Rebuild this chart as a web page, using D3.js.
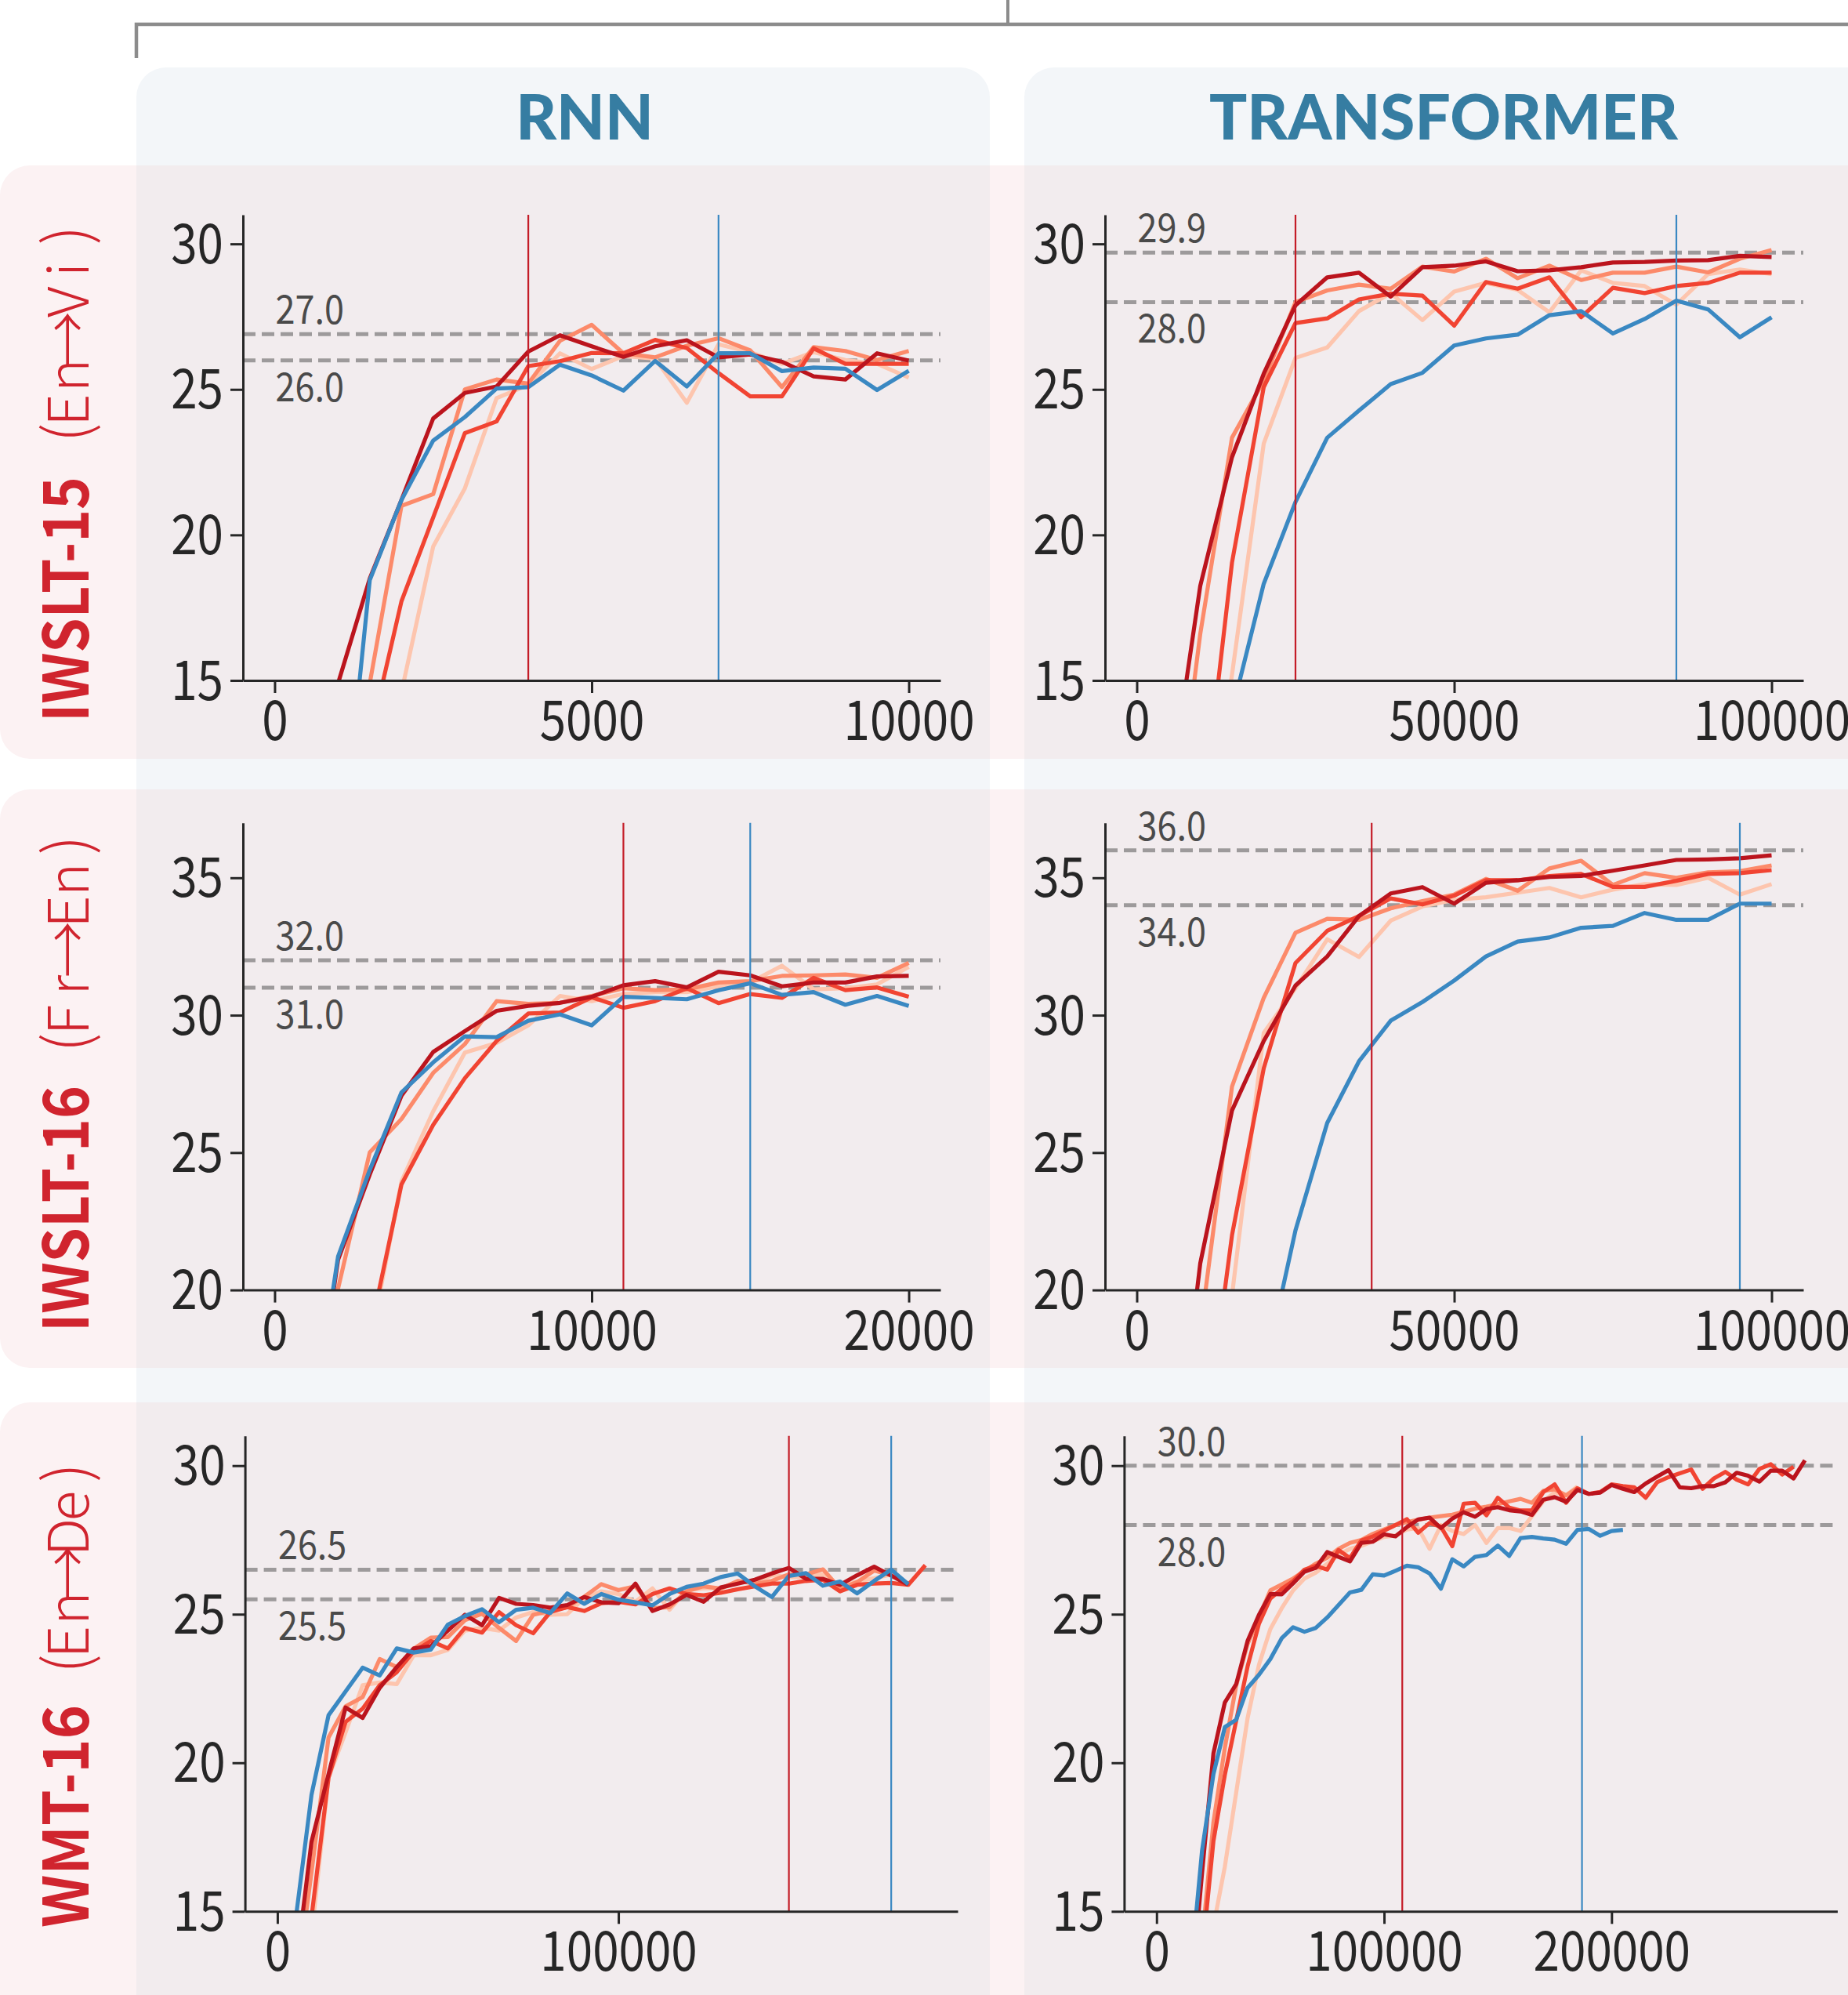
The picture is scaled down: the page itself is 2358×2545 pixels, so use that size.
<!DOCTYPE html>
<html><head><meta charset="utf-8">
<script src="https://cdn.jsdelivr.net/npm/d3@7"></script>
<style>body{margin:0;background:#fff}</style>
</head><body>
<svg id="c" width="2358" height="2545" xmlns="http://www.w3.org/2000/svg"></svg>
<script>
// ---------------- DATA ----------------
const columnTitles = ["RNN", "TRANSFORMER"];
const rowTitles = ["IWSLT-15", "IWSLT-16", "WMT-16"];
const rowSubtitles = ["(En→Vi)", "(Fr→En)", "(En→De)"];
const seriesKeys = ["peach", "salmon", "red", "darkRed", "blue"];

// Panel 1: RNN, IWSLT-15
const steps1 = [0,500,1000,1500,2000,2500,3000,3500,4000,4500,5000,5500,6000,6500,7000,7500,8000,8500,9000,9500,10000];
const p1Peach   = [null,null,null,11.0,14.6,19.6,21.6,24.7,25.15,26.24,25.7,26.15,26.06,24.54,26.55,26.28,25.88,26.28,26.01,25.88,25.41];
const p1Salmon  = [null,null,null,14.9,21.0,21.4,25.0,25.34,25.2,26.67,27.22,26.24,26.1,26.5,26.76,26.34,25.08,26.45,26.32,26.01,26.32];
const p1Red     = [null,null,null,13.0,17.72,20.6,23.5,23.9,25.8,25.97,26.25,26.24,26.7,26.42,25.56,24.76,24.76,26.41,25.88,25.88,25.88];
const p1DarkRed = [null,null,14.9,18.5,21.2,24.0,24.88,25.1,26.3,26.86,26.48,26.12,26.48,26.69,26.1,26.2,25.95,25.45,25.34,26.24,25.99];
const p1Blue    = [null,null,7.7,18.45,21.2,23.24,24.05,25.03,25.08,25.85,25.48,24.96,25.98,25.1,26.24,26.24,25.63,25.75,25.71,24.98,25.64];

// Panel 2: Transformer, IWSLT-15
const steps2 = [0,5000,10000,15000,20000,25000,30000,35000,40000,45000,50000,55000,60000,65000,70000,75000,80000,85000,90000,95000,100000];
const p2Peach   = [null,null,8.0,15.2,23.14,26.08,26.44,27.69,28.31,27.38,28.36,28.66,28.42,27.65,29.09,28.66,28.55,27.91,28.96,29.12,28.96];
const p2Salmon  = [null,8.0,16.6,23.34,25.3,28.0,28.4,28.6,28.46,29.22,29.05,29.49,28.82,29.25,28.76,29.01,29.01,29.22,29.02,29.49,29.79];
const p2Red     = [null,null,9.6,19.05,25.08,27.28,27.44,28.09,28.29,28.22,27.19,28.69,28.46,28.85,27.48,28.49,28.31,28.55,28.66,29.01,29.01];
const p2DarkRed = [null,10.8,18.25,22.67,25.54,27.89,28.85,29.01,28.19,29.2,29.25,29.4,29.06,29.09,29.2,29.36,29.38,29.43,29.44,29.59,29.55];
const p2Blue    = [null,null,null,13.93,18.32,21.13,23.34,24.27,25.18,25.57,26.51,26.75,26.88,27.55,27.69,26.92,27.42,28.05,27.75,26.79,27.48];

// Panel 3: RNN, IWSLT-16
const steps3 = [0,1000,2000,3000,4000,5000,6000,7000,8000,9000,10000,11000,12000,13000,14000,15000,16000,17000,18000,19000,20000];
const p3Peach   = [null,null,null,18.0,23.95,26.5,28.64,28.99,29.63,30.7,30.51,30.77,30.84,30.84,31.05,31.19,31.8,30.94,30.98,31.12,31.76];
const p3Salmon  = [null,12.0,20.05,25.01,26.22,27.9,28.95,30.51,30.41,30.45,30.7,30.98,30.91,30.94,31.19,31.24,31.43,31.45,31.48,31.36,31.9];
const p3Red     = [null,null,null,18.4,23.84,26.01,27.71,29.06,30.06,30.1,30.65,30.27,30.51,30.98,30.44,30.77,30.63,31.36,30.91,31.01,30.67];
const p3DarkRed = [null,13.2,21.1,24.2,27.07,28.66,29.42,30.16,30.34,30.45,30.67,31.09,31.24,31.01,31.58,31.45,31.05,31.19,31.19,31.41,31.43];
const p3Blue    = [null,13.6,21.22,24.37,27.19,28.28,29.23,29.2,29.8,30.03,29.63,30.67,30.63,30.58,30.91,31.16,30.74,30.84,30.38,30.7,30.34];

// Panel 4: Transformer, IWSLT-16
const steps4 = [0,5000,10000,15000,20000,25000,30000,35000,40000,45000,50000,55000,60000,65000,70000,75000,80000,85000,90000,95000,100000];
const p4Peach   = [null,null,null,19.8,29.35,30.98,32.76,32.12,33.44,33.96,34.2,34.29,34.46,34.63,34.29,34.57,34.77,34.74,35.0,34.39,34.77];
const p4Salmon  = [null,null,18.5,27.4,30.63,33.0,33.51,33.47,33.89,34.15,34.39,34.96,34.53,35.34,35.62,34.74,35.17,35.0,35.2,35.24,35.45];
const p4Red     = [null,null,13.2,21.99,28.07,31.9,33.07,33.61,34.25,34.03,34.35,34.91,34.91,35.06,35.14,34.67,34.67,34.89,35.14,35.17,35.28];
const p4DarkRed = [null,11.3,20.97,26.53,29.06,31.08,32.14,33.61,34.43,34.66,34.06,34.82,34.91,35.03,35.07,35.26,35.45,35.65,35.67,35.71,35.82];
const p4Blue    = [null,null,null,null,16.9,22.17,26.08,28.32,29.8,30.48,31.26,32.14,32.68,32.83,33.18,33.25,33.72,33.47,33.47,34.06,34.06];

// Panel 5: RNN, WMT-16
const steps5 = [0,5000,10000,15000,20000,25000,30000,35000,40000,45000,50000,55000,60000,65000,70000,75000,80000,85000,90000,95000,
  100000,105000,110000,115000,120000,125000,130000,135000,140000,145000,150000,155000,160000,165000,170000,175000,180000,185000,190000];
const p5Peach   = [null,null,14.2,19.5,21.03,22.61,22.7,22.65,23.62,23.62,23.8,24.45,24.54,24.45,24.89,25.07,24.98,25.0,25.55,25.77,
  25.68,25.42,25.87,25.15,25.81,25.87,25.87,26.08,26.08,26.31,26.25,26.25,26.34,25.94,26.1,26.21,26.34,26.01,null];
const p5Salmon  = [null,12.0,16.3,20.85,21.9,22.21,23.49,23.22,23.84,24.21,24.23,24.8,25.02,24.54,24.1,24.98,25.11,25.24,25.59,26.01,
  25.81,25.94,25.2,25.24,25.77,25.94,25.86,26.12,26.03,26.12,26.34,26.34,26.51,25.86,26.08,26.47,26.31,26.03,null];
const p5Red     = [null,9.0,14.8,19.5,21.38,21.82,22.61,23.05,23.75,24.1,23.85,24.54,24.38,25.07,24.63,24.36,25.07,25.24,25.11,25.37,
  25.42,25.33,25.68,25.87,25.68,25.64,25.72,25.84,25.94,26.03,26.03,26.12,26.16,25.77,25.99,26.03,26.05,25.99,26.65];
const p5DarkRed = [null,12.66,17.34,19.62,21.86,21.51,22.52,23.22,23.85,23.92,24.45,24.98,24.63,25.55,25.35,25.31,25.22,25.31,25.58,25.4,
  25.37,26.03,25.11,25.33,25.65,25.42,25.9,26.03,26.16,26.37,26.56,26.19,26.19,25.99,26.31,26.6,26.3,25.99,null];
const p5Blue    = [null,14.4,18.92,21.6,22.4,23.2,22.94,23.85,23.71,23.81,24.65,24.94,25.17,24.73,25.15,25.22,25.04,25.7,25.35,25.68,
  25.49,25.4,25.3,25.68,25.92,26.03,26.25,26.37,25.94,25.58,26.29,26.38,25.96,26.1,25.7,26.12,26.5,26.01,null];

// Panel 6: Transformer, WMT-16
const steps6 = [0,5000,10000,15000,20000,25000,30000,35000,40000,45000,50000,55000,60000,65000,70000,75000,80000,85000,90000,95000,
  100000,105000,110000,115000,120000,125000,130000,135000,140000,145000,150000,155000,160000,165000,170000,175000,180000,185000,190000,195000,
  200000,205000,210000,215000,220000,225000,230000,235000,240000,245000,250000,255000,260000,265000,270000,275000,280000,285000];
const p6Peach   = [null,null,null,null,null,14.5,16.5,19.0,21.5,23.3,24.5,25.2,25.8,26.2,26.4,26.7,27.0,27.2,27.3,27.45,
  27.6,27.65,27.85,27.9,27.2,28.0,27.8,27.7,28.0,27.4,27.9,27.9,27.8,28.3,28.8,29.1,29.0,29.3,null,null,
  null,null,null,null,null,null,null,null,null,null,null,null,null,null,null,null,null,null];
const p6Salmon  = [null,null,null,null,14.0,18.0,20.5,22.6,24.0,24.9,25.8,26.0,26.2,26.45,26.7,26.9,27.2,27.4,27.5,27.7,
  27.85,28.0,28.1,28.18,28.25,28.3,28.35,28.45,28.55,28.62,28.7,28.8,28.88,28.75,29.15,29.2,29.0,29.25,null,null,
  null,null,null,null,null,null,null,null,null,null,null,null,null,null,null,null,null,null];
const p6Red     = [null,null,null,null,13.5,17.37,19.59,21.42,23.24,24.68,25.53,25.85,26.11,26.5,26.63,26.5,27.16,26.89,27.48,27.61,
  27.81,28.0,28.2,27.74,28.07,27.94,27.29,28.72,28.75,28.33,28.92,28.59,28.49,28.49,29.11,29.37,28.75,29.24,29.05,29.11,
  29.37,29.31,29.27,28.92,29.44,29.61,29.74,29.87,29.22,29.57,29.79,29.53,29.37,29.89,30.05,29.7,29.96,null];
const p6DarkRed = [null,null,null,12.0,16.3,20.32,22.03,22.65,24.1,24.98,25.68,25.67,26.04,26.43,26.56,27.09,26.93,26.78,27.4,27.44,
  27.69,27.62,27.93,28.19,28.25,27.9,28.22,28.43,28.28,28.54,28.6,28.5,28.46,28.34,28.85,28.94,28.78,29.18,29.05,29.09,
  29.35,29.22,29.11,29.4,29.63,29.85,29.27,29.24,29.31,29.31,29.44,29.76,29.66,29.46,29.83,29.83,29.57,30.18];
const p6Blue    = [null,null,null,12.95,17.05,19.62,21.2,21.45,22.52,22.96,23.49,24.19,24.56,24.41,24.54,24.89,25.31,25.73,25.82,26.34,
  26.3,26.46,26.63,26.58,26.37,25.86,26.85,26.61,26.93,26.99,27.31,26.96,27.56,27.6,27.55,27.51,27.37,27.84,27.87,27.64,
  27.8,27.84,null,null,null,null,null,null,null,null,null,null,null,null,null,null,null,null];

// reference (dashed) lines: drawn value and printed label
const refValues = [[26.9, 26.0], [29.7, 28.0], [32.0, 31.0], [36.0, 34.0], [26.5, 25.5], [30.0, 28.0]];
const refLabels = [["27.0", "26.0"], ["29.9", "28.0"], ["32.0", "31.0"], ["36.0", "34.0"], ["26.5", "25.5"], ["30.0", "28.0"]];
// vertical markers: [red, blue]
const markerSteps = [[4000, 7000], [25000, 85000], [11000, 15000], [37000, 95000], [150000, 180000], [108000, 187000]];
// tick values
const xTickValues = [[0, 5000, 10000], [0, 50000, 100000], [0, 10000, 20000], [0, 50000, 100000], [0, 100000], [0, 100000, 200000]];
const yTickValues = [[15, 20, 25, 30], [15, 20, 25, 30], [20, 25, 30, 35], [20, 25, 30, 35], [15, 20, 25, 30], [15, 20, 25, 30]];

const panelData = [
  {steps: steps1, series: [p1Peach, p1Salmon, p1Red, p1DarkRed, p1Blue]},
  {steps: steps2, series: [p2Peach, p2Salmon, p2Red, p2DarkRed, p2Blue]},
  {steps: steps3, series: [p3Peach, p3Salmon, p3Red, p3DarkRed, p3Blue]},
  {steps: steps4, series: [p4Peach, p4Salmon, p4Red, p4DarkRed, p4Blue]},
  {steps: steps5, series: [p5Peach, p5Salmon, p5Red, p5DarkRed, p5Blue]},
  {steps: steps6, series: [p6Peach, p6Salmon, p6Red, p6DarkRed, p6Blue]}
];

// ---------------- LAYOUT / STYLE ----------------
const layout = [
  {x0: 310, x1: 1200, y0: 868, y1: 274, xDomain: [-500, 10500], yDomain: [15, 31]},
  {x0: 1410, x1: 2301, y0: 868, y1: 274, xDomain: [-5000, 105000], yDomain: [15, 31]},
  {x0: 310, x1: 1200, y0: 1645.6, y1: 1049.7, xDomain: [-1000, 21000], yDomain: [20, 37]},
  {x0: 1410, x1: 2301, y0: 1645.6, y1: 1049.7, xDomain: [-5000, 105000], yDomain: [20, 37]},
  {x0: 312.6, x1: 1222, y0: 2438.3, y1: 1831.8, xDomain: [-9500, 199500], yDomain: [15, 31]},
  {x0: 1434.4, x1: 2344.4, y0: 2438.3, y1: 1831.8, xDomain: [-14250, 299250], yDomain: [15, 31]}
];
const seriesColors = {peach: "#fdc5ae", salmon: "#fc8a6a", red: "#f14432", darkRed: "#bb141d", blue: "#3a88c2"};
const markerColors = ["#c41c27", "#3a88c2"];
const cjk = "'Noto Sans CJK SC', 'Noto Sans CJK JP', 'Noto Sans', sans-serif";
const ink = "#262626";
const tickSqueeze = 0.86;

const svg = d3.select("#c");
svg.append("rect").attr("width", 2358).attr("height", 2545).attr("fill", "#ffffff");

// column panels
const colBoxes = [{x: 174, w: 1089}, {x: 1307, w: 1150}];
colBoxes.forEach(c => svg.append("rect").attr("x", c.x).attr("y", 86).attr("width", c.w)
  .attr("height", 2700).attr("rx", 38).attr("ry", 38).attr("fill", "#f3f6f9"));
// row panels
const rowBoxes = [{y: 211, h: 757}, {y: 1007, h: 738}, {y: 1789, h: 900}];
rowBoxes.forEach(r => {
  svg.append("rect").attr("x", 0).attr("y", r.y).attr("width", 2600).attr("height", r.h)
    .attr("rx", 38).attr("ry", 38).attr("fill", "#fcf2f3");
  colBoxes.forEach(c => svg.append("rect").attr("x", c.x).attr("y", r.y).attr("width", c.w)
    .attr("height", r.h).attr("fill", "#f2ecee"));
});

// top bracket
svg.append("path").attr("d", "M174,74 V31 H2358").attr("fill", "none")
  .attr("stroke", "#8c8c8c").attr("stroke-width", 4.5);
svg.append("line").attr("x1", 1286).attr("x2", 1286).attr("y1", 0).attr("y2", 31)
  .attr("stroke", "#8c8c8c").attr("stroke-width", 4);

// column headers
const headerPos = [746, 1842];
columnTitles.forEach((t, i) => svg.append("text").attr("x", headerPos[i]).attr("y", 178)
  .attr("text-anchor", "middle").attr("font-family", "Lato, 'Open Sans', sans-serif")
  .attr("font-weight", 900).attr("font-size", 80).attr("fill", "#367da2").text(t));

// row labels (rotated)
const rowLabelPos = [
  {base: 113, start1: 921, end1: 608, start2: 568, end2: 287},
  {base: 113, start1: 1699, end1: 1385, start2: 1346, end2: 1065},
  {base: 113, start1: 2459, end1: 2175, start2: 2138, end2: 1866}
];
// glyph centre offsets along the subtitle (fraction of its length)
const subOffsets = [0.057, 0.16, 0.317, 0.48, 0.651, 0.797, 0.954];
rowTitles.forEach((t, i) => {
  const p = rowLabelPos[i];
  svg.append("text").attr("transform", `translate(${p.base},${p.start1}) rotate(-90)`)
    .attr("font-family", cjk).attr("font-weight", 700).attr("font-size", 80)
    .attr("fill", "#d0242e").attr("textLength", p.start1 - p.end1)
    .attr("lengthAdjust", "spacingAndGlyphs").text(t);
  const len = p.start2 - p.end2;
  const chars = Array.from(rowSubtitles[i]);
  const st = svg.append("text").attr("transform", `translate(${p.base},${p.start2}) rotate(-90)`)
    .attr("font-family", cjk).attr("font-weight", 300).attr("font-size", 72)
    .attr("fill", "#d0242e").attr("text-anchor", "middle");
  chars.forEach((ch, k) => st.append("tspan").attr("x", subOffsets[k] * len).attr("y", 0)
    .attr("font-size", (ch === "(" || ch === ")") ? 78 : 72).text(ch));
});

// panels
const defs = svg.append("defs");
layout.forEach((L, pi) => {
  const D = panelData[pi];
  const x = d3.scaleLinear().domain(L.xDomain).range([L.x0, L.x1]);
  const y = d3.scaleLinear().domain(L.yDomain).range([L.y0, L.y1]);
  const g = svg.append("g");
  defs.append("clipPath").attr("id", "clip" + pi).append("rect")
    .attr("x", L.x0).attr("y", L.y1).attr("width", L.x1 - L.x0).attr("height", L.y0 - L.y1);

  // dashed reference lines
  refValues[pi].forEach(v => g.append("line").attr("x1", L.x0).attr("x2", L.x1)
    .attr("y1", y(v)).attr("y2", y(v)).attr("stroke", "#9d9a9b").attr("stroke-width", 5)
    .attr("stroke-dasharray", "16,8"));
  // labels
  refLabels[pi].forEach((lab, j) => {
    const yy = y(refValues[pi][j]) + (j === 0 ? -13 : 52);
    const tx = x(0) + 1;
    g.append("text").attr("transform", `translate(${tx},${yy}) scale(0.9,1)`)
      .attr("font-family", cjk).attr("font-size", 50).attr("fill", "#4a4a4a").text(lab);
  });

  // series
  const line = d3.line().defined(d => d[1] !== null).x(d => x(d[0])).y(d => y(d[1]));
  const lg = g.append("g").attr("clip-path", `url(#clip${pi})`);
  D.series.forEach((vals, si) => {
    const pts = D.steps.map((s, k) => [s, vals[k]]);
    lg.append("path").attr("d", line(pts)).attr("fill", "none")
      .attr("stroke", seriesColors[seriesKeys[si]]).attr("stroke-width", 5.2)
      .attr("stroke-linejoin", "round").attr("stroke-linecap", "butt");
  });

  // vertical markers
  markerSteps[pi].forEach((m, j) => g.append("line").attr("x1", x(m)).attr("x2", x(m))
    .attr("y1", L.y1).attr("y2", L.y0).attr("stroke", markerColors[j]).attr("stroke-width", 2.2));

  // axes
  const gx = g.append("g").attr("transform", `translate(0,${L.y0})`)
    .call(d3.axisBottom(x).tickValues(xTickValues[pi]).tickSize(16).tickSizeOuter(0).tickFormat(d3.format("d")));
  const gy = g.append("g").attr("transform", `translate(${L.x0},0)`)
    .call(d3.axisLeft(y).tickValues(yTickValues[pi]).tickSize(16).tickSizeOuter(0).tickPadding(9).tickFormat(d3.format("d")));
  [gx, gy].forEach(a => {
    a.select(".domain").attr("stroke", ink).attr("stroke-width", 3);
    a.selectAll(".tick line").attr("stroke", ink).attr("stroke-width", 3);
    a.selectAll(".tick text").attr("fill", ink).attr("font-size", 70).attr("font-family", cjk)
      .attr("transform", `scale(${tickSqueeze},1)`);
  });
  gx.selectAll(".tick text").attr("y", 76).attr("dy", 0);
  gy.selectAll(".tick text").attr("dy", 0).attr("y", 24).attr("x", -25 / tickSqueeze);
});
</script>
</body></html>
